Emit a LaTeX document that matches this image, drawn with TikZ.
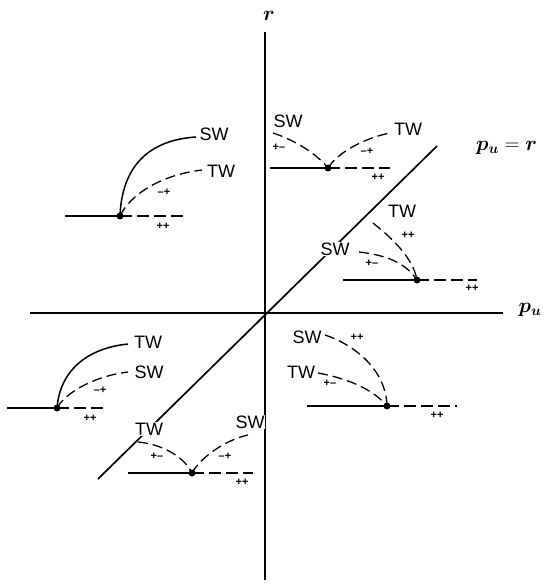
\documentclass[tikz,border=0pt]{standalone}
\usepackage{fontspec}
\usepackage{amsmath,bm}
\newfontfamily\labfont{Liberation Sans}
\begin{document}
\begin{tikzpicture}[x=1pt,y=-1pt,
  axis/.style={line width=1.7pt},
  solidline/.style={line width=1.5pt},
  dashline/.style={line width=1.3pt, dash pattern=on 12pt off 5pt},
  dashcurve/.style={line width=1.3pt, dash pattern=on 10pt off 5pt},
  wave/.style={font=\labfont\fontsize{18}{18}\selectfont, fill=white, inner sep=1pt},
  sgn/.style={font=\labfont\bfseries\fontsize{11}{11}\selectfont, inner sep=0pt},
  mathlab/.style={font=\fontsize{22}{22}\selectfont, inner sep=0pt},
  dotn/.style={circle, fill=black, inner sep=0pt, minimum size=7pt}]
\useasboundingbox (0,0) rectangle (544,587);
% axes
\coordinate (vt) at (265,32); \coordinate (vb) at (265,580);
\coordinate (hl) at (30,313); \coordinate (hr) at (503,313);
\coordinate (dl) at (98,479); \coordinate (dr) at (437,146);
\draw[axis] (vt) -- (vb);
\draw[axis] (hl) -- (hr);
\draw[axis] (dl) -- (dr);
\node[mathlab] (rlab) at (269,16) {$\bm{r}$};
\node[mathlab] (pulab) at (530,310) {$\bm{p_u}$};
\node[mathlab, anchor=west] (diaglab) at (476,148) {$\bm{p_u}=\bm{r}$};
% diagram 1 (upper left)
\node[dotn] (d1) at (120,216) {};
\coordinate (d1l) at (65,216); \coordinate (d1r) at (185,216);
\coordinate (d1a) at (196,137); \coordinate (d1b) at (202,170);
\draw[solidline] (d1l) -- (d1.center);
\draw[dashline] (d1.center) -- (d1r);
\draw[solidline] (d1.center) .. controls (122,165) and (150,140) .. (d1a);
\draw[dashcurve] (d1.center) .. controls (130,195) and (160,175) .. (d1b);
\node[wave] (sw1) at (214,134) {SW};
\node[wave] (tw1) at (221,171) {TW};
\node[sgn] (s1a) at (164,192) {\textendash+};
\node[sgn] (s1b) at (163,226) {++};
% diagram 2 (upper right of r axis)
\node[dotn] (d2) at (328,168) {};
\coordinate (d2l) at (270,168); \coordinate (d2r) at (390,168);
\coordinate (d2a) at (273,133); \coordinate (d2b) at (390,133);
\draw[solidline] (d2l) -- (d2.center);
\draw[dashline] (d2.center) -- (d2r);
\draw[dashcurve] (d2a) .. controls (295,140) and (318,155) .. (d2.center);
\draw[dashcurve] (d2.center) .. controls (338,152) and (365,138) .. (d2b);
\node[wave] (sw2) at (288,121) {SW};
\node[wave] (tw2) at (408,129) {TW};
\node[sgn] (s2a) at (279,147) {+\textendash};
\node[sgn] (s2b) at (367,151) {\textendash+};
\node[sgn] (s2c) at (378,177) {++};
% diagram 3 (right, above p_u axis)
\node[dotn] (d3) at (417,280) {};
\coordinate (d3l) at (343,280); \coordinate (d3r) at (477,280);
\coordinate (d3a) at (373,223); \coordinate (d3b) at (359,252);
\draw[solidline] (d3l) -- (d3.center);
\draw[dashline] (d3.center) -- (d3r);
\draw[dashcurve] (d3a) .. controls (393,239) and (413,258) .. (d3.center);
\draw[dashcurve] (d3b) .. controls (385,255) and (405,262) .. (d3.center);
\node[wave] (tw3) at (402,211) {TW};
\node[wave] (sw3) at (335,249) {SW};
\node[sgn] (s3a) at (408,235) {++};
\node[sgn] (s3b) at (372,263) {+\textendash};
\node[sgn] (s3c) at (472,288) {++};
% diagram 4 (lower left)
\node[dotn] (d4) at (57,408) {};
\coordinate (d4l) at (7,408); \coordinate (d4r) at (105,408);
\coordinate (d4a) at (128,344); \coordinate (d4b) at (128,372);
\draw[solidline] (d4l) -- (d4.center);
\draw[dashline] (d4.center) -- (d4r);
\draw[solidline] (d4.center) .. controls (60,370) and (88,348) .. (d4a);
\draw[dashcurve] (d4.center) .. controls (66,392) and (95,376) .. (d4b);
\node[wave] (tw4) at (148,342) {TW};
\node[wave] (sw4) at (149,372) {SW};
\node[sgn] (s4a) at (100,390) {\textendash+};
\node[sgn] (s4b) at (90,418) {++};
% diagram 5 (right, below p_u axis)
\node[dotn] (d5) at (387,406) {};
\coordinate (d5l) at (307,406); \coordinate (d5r) at (457,406);
\coordinate (d5a) at (325,335); \coordinate (d5b) at (318,373);
\draw[solidline] (d5l) -- (d5.center);
\draw[dashline] (d5.center) -- (d5r);
\draw[dashcurve] (d5a) .. controls (355,345) and (386,370) .. (d5.center);
\draw[dashcurve] (d5b) .. controls (345,378) and (372,388) .. (d5.center);
\node[wave] (sw5) at (307,337) {SW};
\node[wave] (tw5) at (301,372) {TW};
\node[sgn] (s5a) at (357,337) {++};
\node[sgn] (s5b) at (330,383) {+\textendash};
\node[sgn] (s5c) at (437,415) {++};
% diagram 6 (bottom)
\node[dotn] (d6) at (192,473) {};
\coordinate (d6l) at (128,473); \coordinate (d6r) at (253,473);
\coordinate (d6a) at (138,442); \coordinate (d6b) at (248,435);
\draw[solidline] (d6l) -- (d6.center);
\draw[dashline] (d6.center) -- (d6r);
\draw[dashcurve] (d6a) .. controls (160,444) and (183,455) .. (d6.center);
\draw[dashcurve] (d6.center) .. controls (200,458) and (225,440) .. (d6b);
\node[wave] (tw6) at (149,429) {TW};
\node[wave] (sw6) at (250,422) {SW};
\node[sgn] (s6a) at (157,456) {+\textendash};
\node[sgn] (s6b) at (225,456) {\textendash+};
\node[sgn] (s6c) at (242,482) {++};
\end{tikzpicture}
\end{document}
